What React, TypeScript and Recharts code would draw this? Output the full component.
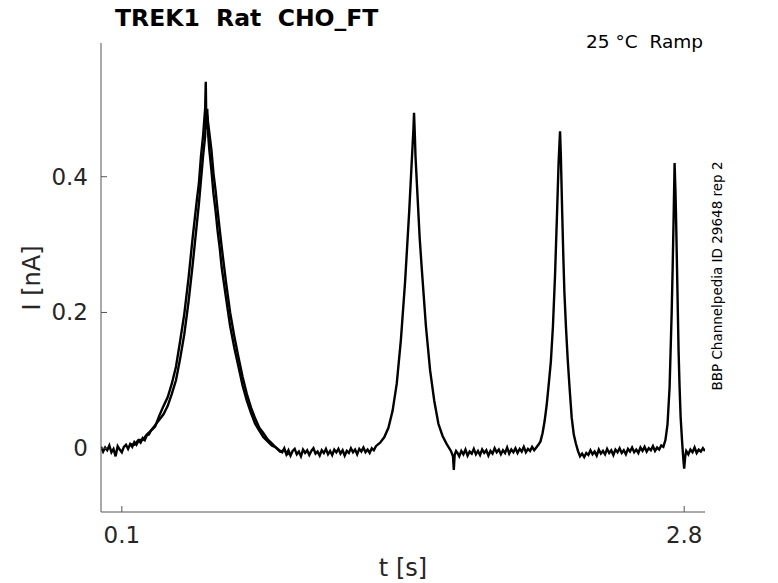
import { LineChart, Line, XAxis, YAxis } from "recharts";

const leadIn = [
  [0.0, 0.002], [0.01, -0.005], [0.02, 0.001], [0.03, -0.003], [0.04, 0.004],
  [0.05, -0.006], [0.06, -0.001], [0.07, -0.012], [0.08, 0.003], [0.09, -0.002],
  [0.1, -0.006], [0.11, 0.002], [0.12, 0.005], [0.13, -0.001], [0.14, 0.006],
  [0.15, 0.002], [0.16, 0.009], [0.17, 0.005], [0.18, 0.011], [0.19, 0.008],
  [0.2, 0.015], [0.21, 0.012], [0.22, 0.019], [0.23, 0.02], [0.24, 0.026],
];
const peak1 = [
  [0.26, 0.032], [0.28, 0.048], [0.3, 0.062], [0.32, 0.075], [0.34, 0.095],
  [0.36, 0.12], [0.38, 0.158], [0.4, 0.198], [0.42, 0.25], [0.44, 0.31],
  [0.46, 0.365], [0.47, 0.39], [0.48, 0.43], [0.49, 0.46], [0.495, 0.48],
  [0.5, 0.5], [0.503, 0.54], [0.506, 0.47], [0.51, 0.5], [0.515, 0.46],
  [0.52, 0.44], [0.53, 0.41], [0.54, 0.375], [0.55, 0.35], [0.56, 0.32],
  [0.57, 0.295], [0.58, 0.265], [0.6, 0.222], [0.62, 0.18], [0.64, 0.148],
  [0.66, 0.12], [0.68, 0.092], [0.7, 0.07], [0.72, 0.052], [0.74, 0.036],
  [0.76, 0.026], [0.78, 0.016], [0.8, 0.01], [0.82, 0.004], [0.84, 0.001],
  [0.86, -0.004],
];
const gap1 = [
  [0.87, -0.006], [0.88, 0.0], [0.89, -0.009], [0.9, -0.003], [0.91, -0.011],
  [0.92, -0.004], [0.93, -0.001], [0.94, -0.009], [0.95, -0.005], [0.96, -0.012],
  [0.97, -0.002], [0.98, -0.007], [0.99, -0.003], [1.0, -0.01], [1.01, -0.004],
  [1.02, 0.0], [1.03, -0.008], [1.04, -0.005], [1.05, -0.011], [1.06, -0.003],
  [1.07, -0.007], [1.08, -0.001], [1.09, -0.009], [1.1, -0.004], [1.11, -0.01],
  [1.12, -0.002], [1.13, -0.006], [1.14, -0.001], [1.15, -0.008], [1.16, -0.003],
  [1.17, -0.011], [1.18, -0.004], [1.19, -0.007], [1.2, 0.0], [1.21, -0.006],
  [1.22, -0.002], [1.23, -0.009], [1.24, -0.001], [1.25, -0.005], [1.26, 0.001],
  [1.27, -0.006], [1.28, -0.002], [1.29, -0.007], [1.3, 0.0], [1.31, -0.003],
  [1.32, 0.003],
];
const peak2 = [
  [1.34, 0.008], [1.36, 0.016], [1.38, 0.03], [1.4, 0.055], [1.42, 0.095],
  [1.44, 0.16], [1.46, 0.245], [1.48, 0.35], [1.49, 0.41], [1.5, 0.47],
  [1.503, 0.494], [1.507, 0.46], [1.51, 0.43], [1.52, 0.37], [1.53, 0.31],
  [1.54, 0.265], [1.56, 0.18], [1.58, 0.115], [1.6, 0.07], [1.62, 0.036],
  [1.64, 0.018], [1.66, 0.006], [1.68, -0.004], [1.69, -0.012], [1.694, -0.032],
  [1.698, -0.01], [1.705, -0.004],
];
const gap2 = [
  [1.71, -0.006], [1.72, -0.012], [1.73, -0.004], [1.74, -0.009], [1.75, -0.002],
  [1.76, -0.011], [1.77, -0.005], [1.78, -0.008], [1.79, -0.001], [1.8, -0.009],
  [1.81, -0.004], [1.82, -0.01], [1.83, -0.002], [1.84, -0.007], [1.85, -0.003],
  [1.86, -0.011], [1.87, -0.004], [1.88, -0.008], [1.89, 0.0], [1.9, -0.006],
  [1.91, -0.002], [1.92, -0.009], [1.93, -0.003], [1.94, -0.007], [1.95, 0.001],
  [1.96, -0.008], [1.97, -0.002], [1.98, -0.006], [1.99, 0.0], [2.0, -0.007],
  [2.01, -0.001], [2.02, -0.005], [2.03, 0.002], [2.04, -0.006], [2.05, -0.001],
  [2.06, -0.004], [2.07, 0.002], [2.08, -0.003], [2.09, 0.001], [2.1, 0.005],
];
const peak3 = [
  [2.11, 0.01], [2.12, 0.022], [2.13, 0.04], [2.14, 0.064], [2.15, 0.095],
  [2.16, 0.128], [2.17, 0.18], [2.18, 0.255], [2.19, 0.35], [2.197, 0.42],
  [2.204, 0.467], [2.208, 0.43], [2.214, 0.351], [2.22, 0.28], [2.225, 0.229],
  [2.233, 0.175], [2.241, 0.13], [2.25, 0.088], [2.26, 0.045], [2.27, 0.02],
  [2.28, 0.007], [2.29, -0.004], [2.3, -0.012], [2.31, -0.008],
];
const gap3 = [
  [2.32, -0.013], [2.33, -0.007], [2.34, -0.01], [2.35, -0.003], [2.36, -0.009],
  [2.37, -0.005], [2.38, -0.011], [2.39, -0.002], [2.4, -0.008], [2.41, -0.004],
  [2.42, -0.009], [2.43, -0.001], [2.44, -0.007], [2.45, -0.003], [2.46, -0.01],
  [2.47, -0.002], [2.48, -0.006], [2.49, 0.0], [2.5, -0.007], [2.51, -0.003],
  [2.52, -0.009], [2.53, -0.001], [2.54, -0.005], [2.55, 0.001], [2.56, -0.006],
  [2.57, -0.002], [2.58, -0.007], [2.59, 0.001], [2.6, -0.004], [2.61, 0.002],
  [2.62, -0.005], [2.63, 0.0], [2.64, -0.003], [2.65, 0.003], [2.66, -0.004],
  [2.67, 0.001], [2.68, -0.002], [2.69, 0.004], [2.7, 0.002],
];
const peak4 = [
  [2.71, 0.012], [2.72, 0.035], [2.73, 0.09], [2.735, 0.145], [2.74, 0.2],
  [2.745, 0.27], [2.75, 0.35], [2.754, 0.42], [2.758, 0.38], [2.761, 0.341],
  [2.767, 0.243], [2.773, 0.145], [2.778, 0.09], [2.783, 0.046], [2.79, 0.01],
  [2.795, -0.012], [2.8, -0.03], [2.805, -0.012],
];
const tail = [
  [2.81, -0.004], [2.82, -0.009], [2.83, -0.002], [2.84, -0.006], [2.85, 0.001],
  [2.86, -0.007], [2.87, -0.002], [2.88, -0.005], [2.89, 0.0], [2.9, -0.004],
];

// a second sweep that separates from the first one around the first peak
const sweep2Peak1 = [
  [0.14, 0.006], [0.16, 0.005], [0.18, 0.012], [0.2, 0.012], [0.22, 0.02],
  [0.24, 0.026], [0.26, 0.034], [0.28, 0.042], [0.3, 0.05], [0.32, 0.062],
  [0.34, 0.08], [0.36, 0.1], [0.38, 0.132], [0.4, 0.168], [0.42, 0.215],
  [0.44, 0.27], [0.46, 0.33], [0.47, 0.36], [0.48, 0.395], [0.49, 0.43],
  [0.5, 0.46], [0.505, 0.495], [0.51, 0.49], [0.52, 0.465], [0.53, 0.44],
  [0.54, 0.405], [0.55, 0.38], [0.56, 0.35], [0.57, 0.322], [0.58, 0.295],
  [0.6, 0.245], [0.62, 0.2], [0.64, 0.165], [0.66, 0.134], [0.68, 0.105],
  [0.7, 0.08], [0.72, 0.06], [0.74, 0.044], [0.76, 0.03], [0.78, 0.022],
  [0.8, 0.013], [0.82, 0.007], [0.84, 0.001], [0.86, -0.005], [0.88, -0.003],
  [0.9, -0.01],
];

const xTicks = [0.1, 2.8];
const yTicks = [0, 0.2, 0.4];

const title = "TREK1  Rat  CHO_FT";
const condition = "25 °C  Ramp";
const sideNote = "BBP Channelpedia ID 29648 rep 2";

const toRows = (pts: number[][]) => pts.map(([t, i]) => ({ t, i }));
const sweep1 = toRows([
  ...leadIn, ...peak1, ...gap1, ...peak2, ...gap2, ...peak3, ...gap3, ...peak4, ...tail,
]);
const sweep2 = toRows(sweep2Peak1);

const W = 778;
const H = 583;
const LEFT = 101;
const RIGHT = 705;
const TOP = 43;
const BOTTOM = 512;
const FONT = "'DejaVu Sans', sans-serif";
const AXIS = "#555555";
const TEXT = "#262626";

const fmt = (v: number) => (v === 0 ? "0" : String(v));

function YTick(props: any) {
  const { y, payload } = props;
  return (
    <g>
      <line x1={LEFT} x2={LEFT + 6} y1={y} y2={y} stroke={AXIS} strokeWidth={1} />
      <text x={LEFT - 13} y={y} dy={8} textAnchor="end" fontSize={23} fill={TEXT} fontFamily={FONT}>
        {fmt(payload.value)}
      </text>
    </g>
  );
}

function XTick(props: any) {
  const { x, payload } = props;
  return (
    <g>
      <line x1={x} x2={x} y1={BOTTOM} y2={BOTTOM - 6} stroke={AXIS} strokeWidth={1} />
      <text x={x} y={543} textAnchor="middle" fontSize={23} fill={TEXT} fontFamily={FONT}>
        {fmt(payload.value)}
      </text>
    </g>
  );
}

export default function App() {
  return (
    <div style={{ position: "absolute", left: 0, top: 0, width: W, height: H, background: "#fff" }}>
      <LineChart
        width={W}
        height={H}
        margin={{ top: TOP, right: W - RIGHT, left: LEFT - 60, bottom: 0 }}
      >
        <XAxis
          type="number"
          dataKey="t"
          domain={[0, 2.9]}
          ticks={xTicks}
          allowDataOverflow
          height={H - BOTTOM}
          tickLine={false}
          axisLine={{ stroke: AXIS, strokeWidth: 1 }}
          tick={<XTick />}
          interval={0}
        />
        <YAxis
          type="number"
          dataKey="i"
          domain={[-0.094, 0.597]}
          ticks={yTicks}
          allowDataOverflow
          width={60}
          tickLine={false}
          axisLine={{ stroke: AXIS, strokeWidth: 1 }}
          tick={<YTick />}
          interval={0}
        />
        <Line
          data={sweep2}
          type="linear"
          dataKey="i"
          stroke="#000"
          strokeWidth={2.4}
          dot={false}
          isAnimationActive={false}
        />
        <Line
          data={sweep1}
          type="linear"
          dataKey="i"
          stroke="#000"
          strokeWidth={2.4}
          dot={false}
          isAnimationActive={false}
        />
      </LineChart>
      <svg
        width={W}
        height={H}
        style={{ position: "absolute", left: 0, top: 0, pointerEvents: "none" }}
      >
        <text x={115} y={26} fontSize={23.5} fontWeight="bold" fill="#000" fontFamily={FONT} style={{ whiteSpace: "pre" }}>
          {title}
        </text>
        <text x={703} y={48} textAnchor="end" fontSize={18.5} fill="#000" fontFamily={FONT} style={{ whiteSpace: "pre" }}>
          {condition}
        </text>
        <text
          x={722}
          y={276}
          textAnchor="middle"
          fontSize={13.5}
          fill="#000"
          fontFamily={FONT}
          transform="rotate(-90, 722, 276)"
        >
          {sideNote}
        </text>
        <text x={403} y={576} textAnchor="middle" fontSize={24} fill={TEXT} fontFamily={FONT}>
          t [s]
        </text>
        <text
          x={40}
          y={278}
          textAnchor="middle"
          fontSize={24}
          fill={TEXT}
          fontFamily={FONT}
          transform="rotate(-90, 40, 278)"
        >
          I [nA]
        </text>
      </svg>
    </div>
  );
}
